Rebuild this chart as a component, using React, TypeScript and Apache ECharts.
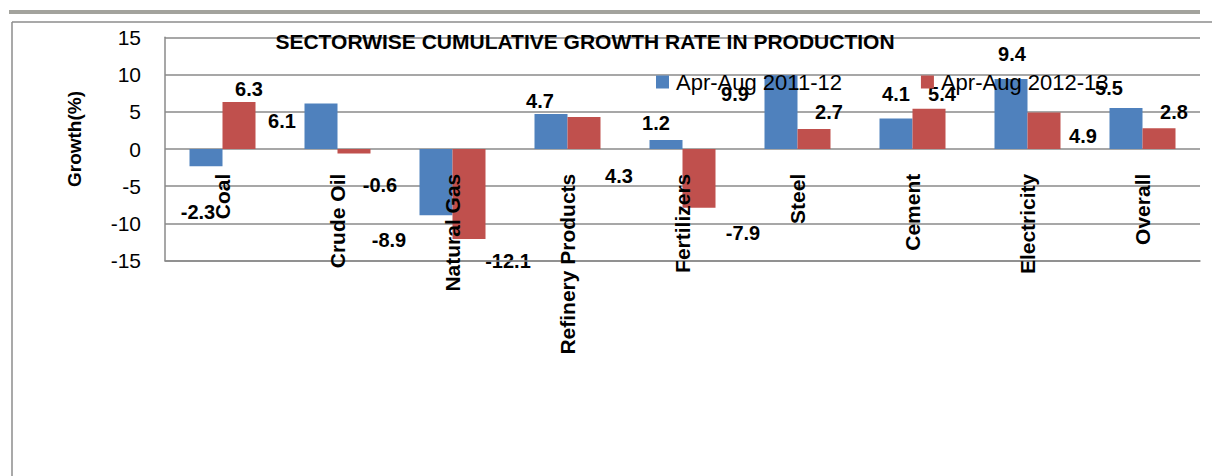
import React, { useEffect, useRef } from "react";
import * as echarts from "echarts";

const categories = [
  "Coal",
  "Crude Oil",
  "Natural Gas",
  "Refinery Products",
  "Fertilizers",
  "Steel",
  "Cement",
  "Electricity",
  "Overall",
];
const seriesNames = ["Apr-Aug 2011-12", "Apr-Aug 2012-13"];
const growth2011 = [-2.3, 6.1, -8.9, 4.7, 1.2, 9.9, 4.1, 9.4, 5.5];
const growth2012 = [6.3, -0.6, -12.1, 4.3, -7.9, 2.7, 5.4, 4.9, 2.8];
const yMin = -15;
const yMax = 15;
const yStep = 5;

// label displacement (px) from the bar centre, as the labels sit in the reference
const labelShift2011 = [
  [-8, 54], [-39, -5], [-47, 58], [-11, -31], [-10, -22], [-46, -18], [0, -40], [1, -60], [-17, -41],
];
const labelShift2012 = [
  [10, -37], [26, 34], [39, 67], [35, 43], [44, 55], [15, -27], [13, -35], [39, 5], [15, -27],
];

const FONT = "'Liberation Sans', Arial, sans-serif";

export default function App() {
  const ref = useRef<HTMLDivElement>(null);
  useEffect(() => {
    if (!ref.current) return;
    const chart = echarts.init(ref.current, undefined, { renderer: "svg" });
    const mk = (vals: number[], shifts: number[][]) =>
      vals.map((v, i) => ({ value: v, label: { offset: shifts[i] } }));
    const labelBase = {
      show: true,
      position: "inside",
      color: "#000",
      fontFamily: FONT,
      fontWeight: "bold",
      fontSize: 20,
    };
    chart.setOption({
      animation: false,
      textStyle: { fontFamily: FONT },
      title: {
        text: "SECTORWISE CUMULATIVE GROWTH RATE IN PRODUCTION",
        left: 580,
        top: 26,
        padding: 5,
        textAlign: "center",
        textStyle: { fontSize: 21, fontWeight: "bold", color: "#000", fontFamily: FONT },
      },
      legend: {
        left: 656,
        top: 71,
        padding: 0,
        itemWidth: 13,
        itemHeight: 13,
        itemGap: 79,
        icon: "rect",
        textStyle: { fontSize: 22, color: "#000", fontFamily: FONT, padding: [0, 0, 0, 2] },
        data: seriesNames,
      },
      grid: { left: 165, right: 12, top: 37.3, height: 223.4 },
      xAxis: {
        type: "category",
        data: categories,
        z: 3,
        axisLine: { onZero: false, lineStyle: { color: "#8a8a8a", width: 1.5 } },
        axisTick: { show: false },
        axisLabel: {
          rotate: 90,
          interval: 0,
          margin: -87,
          fontSize: 21,
          fontWeight: "bold",
          color: "#000",
          fontFamily: FONT,
        },
      },
      yAxis: {
        type: "value",
        min: yMin,
        max: yMax,
        interval: yStep,
        axisLine: { show: true, lineStyle: { color: "#8a8a8a", width: 1.5 } },
        axisTick: { show: false },
        axisLabel: { fontSize: 21, color: "#000", margin: 24, fontFamily: FONT },
        splitLine: { lineStyle: { color: "#8a8a8a", width: 1.5 } },
      },
      series: [
        {
          name: seriesNames[0],
          type: "bar",
          barWidth: 33,
          barGap: "0%",
          itemStyle: { color: "#4F81BD" },
          label: labelBase,
          data: mk(growth2011, labelShift2011),
        },
        {
          name: seriesNames[1],
          type: "bar",
          barWidth: 33,
          barGap: "0%",
          itemStyle: { color: "#C0504D" },
          label: labelBase,
          data: mk(growth2012, labelShift2012),
        },
      ],
      graphic: [
        { type: "rect", shape: { x: 9, y: 10, width: 1191, height: 4 }, style: { fill: "#a3a39d" } },
        { type: "line", shape: { x1: 12, y1: 22, x2: 1212, y2: 22 }, style: { stroke: "#8c8c8c", lineWidth: 1.5 } },
        { type: "line", shape: { x1: 12, y1: 22, x2: 12, y2: 476 }, style: { stroke: "#8c8c8c", lineWidth: 1.5 } },
        {
          type: "text",
          x: 74,
          y: 139,
          rotation: Math.PI / 2,
          style: {
            text: "Growth(%)",
            fontSize: 19,
            fontWeight: "bold",
            fontFamily: FONT,
            fill: "#000",
            align: "center",
            verticalAlign: "middle",
          },
        },
      ],
    });
    return () => chart.dispose();
  }, []);
  return (
    <div
      ref={ref}
      style={{ position: "fixed", left: 0, top: 0, width: 1212, height: 476, background: "#fff" }}
    />
  );
}
